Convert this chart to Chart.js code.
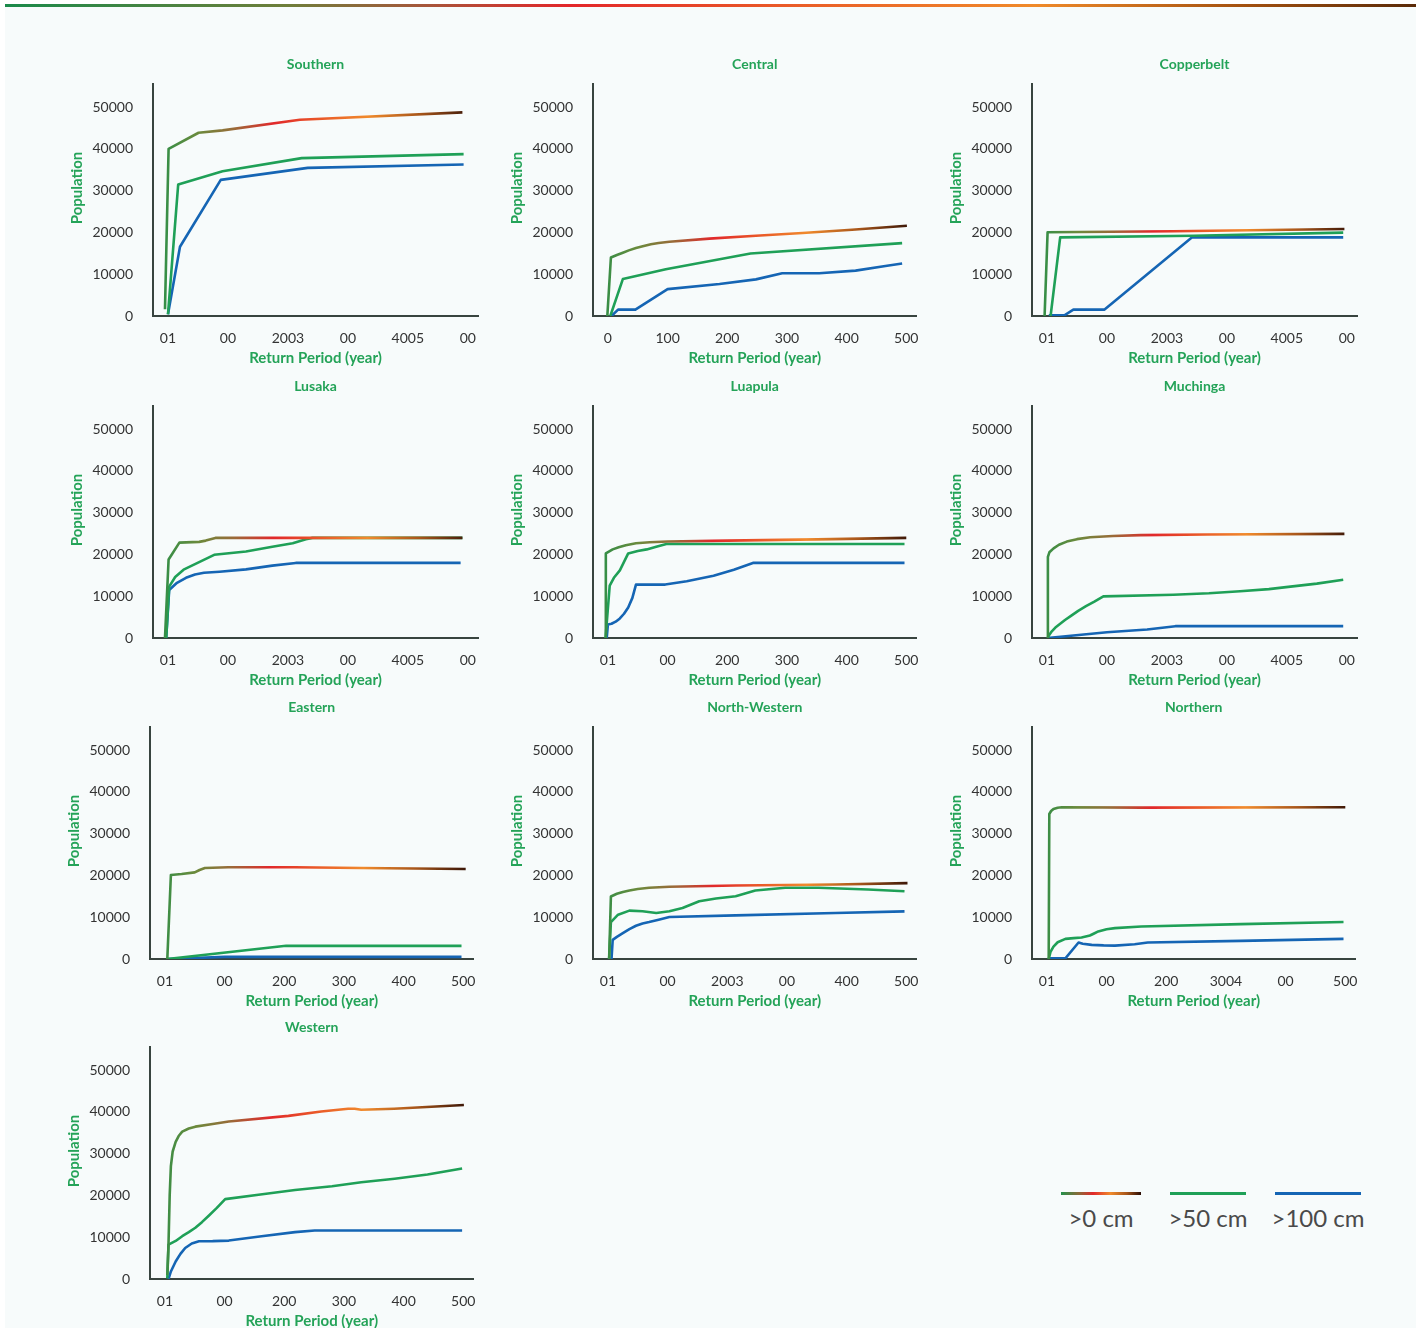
<!DOCTYPE html>
<html>
<head>
<meta charset="utf-8">
<title>Exposed population by return period</title>
<script src="https://cdn.jsdelivr.net/npm/chart.js@4.4.1/dist/chart.umd.min.js"></script>
<style>
  html, body { margin: 0; padding: 0; background: #ffffff; }
  body { width: 1426px; height: 1328px; position: relative; overflow: hidden; font-family: Lato, "Open Sans", sans-serif; }
  #sheet { position: absolute; left: 5px; top: 4px; width: 1411px; height: 1324px; background: #f7fbfb; }
  #topRule { position: absolute; left: 5px; top: 4px; width: 1411px; height: 3px;
    background: linear-gradient(90deg, #1a8a4a 0%, #6f7e3a 20%, #a8553a 30%, #e3262a 40%, #ea5a28 55%, #f08a2a 73%, #a2500f 88%, #5a2a08 100%); }
  .panel { position: absolute; width: 440px; height: 332px; }
  .panel canvas { display: block; }
  .swatch { position: absolute; height: 3px; }
  .caption { position: absolute; width: 140px; text-align: center; font-size: 24px; line-height: 28px; color: #4a4a4a; }
</style>
</head>
<body>
<div id="sheet"></div>
<div id="topRule"></div>
<div id="panels"></div>

<div class="swatch" style="left:1061px;top:1192px;width:80px;background:linear-gradient(90deg,#23904a 0%,#8a6a38 22%,#e1282b 40%,#f08a2c 62%,#a8561a 82%,#2a0c04 100%);"></div>
<div class="swatch" style="left:1170px;top:1192px;width:76px;background:#1fa057;"></div>
<div class="swatch" style="left:1275px;top:1192px;width:86px;background:#1565b4;"></div>
<div class="caption" id="cap0" style="left:1031px;top:1204px;"></div>
<div class="caption" id="cap1" style="left:1138px;top:1204px;"></div>
<div class="caption" id="cap2" style="left:1248px;top:1204px;"></div>

<script>
// ---- Regions and series ----
const regions = ['Southern', 'Central', 'Copperbelt', 'Lusaka', 'Luapula', 'Muchinga',
                 'Eastern', 'North-Western', 'Northern', 'Western'];
const seriesNames = ['>0 cm', '>50 cm', '>100 cm'];

// ---- Axis tick positions ----
const xTickValues = [0, 100, 200, 300, 400, 500];
const yTickValues = [0, 10000, 20000, 30000, 40000, 50000];

// ---- X tick labels (return period axis), as printed on each panel ----
const ticksGarbledA = ['01', '00', '2003', '00', '4005', '00'];
const ticksPlain = ['0', '100', '200', '300', '400', '500'];
const ticksGarbledB = ['01', '00', '200', '300', '400', '500'];
const ticksNorthWestern = ['01', '00', '2003', '00', '400', '500'];
const ticksNorthern = ['01', '00', '200', '3004', '00', '500'];

// ---- Population exposed, [return period (years), population] ----
const southern0 = [[-5, 1600], [1, 40000], [51, 43840], [91, 44400], [220, 46960], [491, 48720]];
const southern50 = [[0, 400], [17, 31440], [91, 34640], [223, 37760], [493, 38720]];
const southern100 = [[0, 400], [20, 16560], [88, 32560], [233, 35440], [493, 36240]];

const central0 = [[-1, 0], [5, 14000], [15, 14600], [25, 15150], [35, 15700], [47, 16250], [60, 16750], [72, 17150], [85, 17450], [103, 17770], [170, 18500], [248, 19200], [326, 19850], [409, 20650], [501, 21600]];
const central50 = [[4, 0], [25, 8840], [97, 11170], [239, 14950], [493, 17440]];
const central100 = [[6, 0], [17, 1530], [46, 1530], [100, 6430], [187, 7640], [248, 8760], [292, 10210], [354, 10210], [415, 10850], [465, 11980], [493, 12540]];

const copperbelt0 = [[-4, 0], [1, 20020], [211, 20260], [496, 20820]];
const copperbelt50 = [[6, 0], [22, 18810], [244, 19210], [494, 19940]];
const copperbelt100 = [[3, 160], [29, 160], [44, 1530], [96, 1530], [242, 18810], [494, 18810]];

const lusaka0 = [[-5, 0], [1, 18770], [19, 22820], [52, 23000], [63, 23300], [79, 23950], [491, 23950]];
const lusaka50 = [[-3, 0], [2, 12300], [12, 14600], [26, 16340], [77, 19900], [130, 20700], [174, 21840], [208, 22650], [230, 23620], [241, 23950], [491, 23950]];
const lusaka100 = [[-3, 0], [2, 11490], [15, 13200], [30, 14400], [45, 15200], [60, 15600], [86, 15860], [130, 16420], [174, 17310], [213, 17960], [488, 17960]];

const luapula0 = [[-4, 0], [-3.5, 20230], [8, 21200], [18, 21700], [30, 22200], [47, 22650], [70, 22900], [100, 23100], [200, 23300], [350, 23600], [500, 23950]];
const luapula50 = [[-4, 0], [3, 12540], [10, 14400], [20, 16180], [34, 20230], [50, 20800], [65, 21200], [81, 21840], [98, 22490], [497, 22490]];
const luapula100 = [[-2, 0], [0, 3240], [6, 3400], [13, 3900], [20, 4690], [27, 5800], [34, 7280], [41, 9600], [47, 12780], [96, 12780], [132, 13590], [177, 14890], [211, 16340], [243, 17960], [497, 17960]];

const muchinga0 = [[1, 0], [1.5, 19420], [4, 20500], [11, 21440], [20, 22300], [33, 23060], [50, 23650], [72, 24110], [110, 24400], [156, 24600], [267, 24760], [496, 24920]];
const muchinga50 = [[1, 0], [4, 800], [8, 1600], [14, 2500], [22, 3400], [30, 4300], [40, 5300], [52, 6500], [65, 7600], [79, 8700], [94, 9950], [211, 10360], [270, 10700], [322, 11170], [370, 11700], [406, 12300], [450, 13000], [494, 13920]];
const muchinga100 = [[1, 0], [100, 1380], [167, 2020], [214, 2830], [494, 2830]];

const eastern0 = [[4, 0], [10, 20080], [28, 20320], [50, 20730], [58, 21290], [67, 21770], [106, 21940], [217, 21940], [328, 21770], [504, 21530]];
const eastern50 = [[4, 0], [203, 3150], [497, 3150]];
const eastern100 = [[4, 0], [100, 500], [497, 500]];

const northWestern0 = [[2, 0], [5, 14940], [15, 15600], [25, 16050], [36, 16390], [50, 16750], [69, 17030], [103, 17270], [214, 17590], [381, 17830], [502, 18150]];
const northWestern50 = [[2, 0], [5, 8840], [17, 10600], [36, 11570], [58, 11410], [81, 11000], [103, 11410], [125, 12210], [153, 13820], [181, 14460], [214, 15020], [247, 16390], [297, 17030], [353, 17030], [436, 16630], [497, 16220]];
const northWestern100 = [[6, 0], [8, 4580], [15, 5300], [25, 6180], [36, 7150], [47, 7950], [58, 8500], [69, 8840], [85, 9400], [103, 10040], [214, 10440], [381, 11000], [497, 11400]];

const northern0 = [[3, 0], [4, 34700], [7, 35400], [11, 35900], [18, 36200], [25, 36300], [160, 36220], [500, 36300]];
const northern50 = [[3, 0], [6, 1700], [11, 2970], [18, 4000], [31, 4820], [45, 5000], [58, 5140], [72, 5620], [79, 6100], [86, 6590], [100, 7100], [114, 7390], [158, 7790], [325, 8350], [497, 8840]];
const northern100 = [[4, 160], [31, 160], [53, 3940], [60, 3650], [75, 3370], [95, 3250], [114, 3210], [147, 3530], [169, 3940], [325, 4340], [497, 4820]];

const western0 = [[4, 970], [6, 8230], [8, 20000], [10, 27000], [13, 30500], [18, 32820], [23, 34200], [29, 35240], [40, 36000], [51, 36450], [80, 37100], [107, 37660], [207, 39030], [262, 40080], [307, 40730], [318, 40730], [329, 40480], [384, 40730], [501, 41610]];
const western50 = [[4, 160], [6, 8230], [18, 9100], [29, 10240], [40, 11200], [51, 12260], [62, 13600], [73, 15080], [87, 17000], [101, 19110], [160, 20200], [218, 21290], [280, 22200], [329, 23150], [385, 24000], [440, 25000], [498, 26450]];
const western100 = [[6, 0], [10, 1800], [18, 4190], [26, 6000], [34, 7420], [45, 8500], [57, 9030], [80, 9050], [107, 9190], [162, 10240], [218, 11210], [251, 11610], [498, 11610]];

// ---- Panel wiring: series, tick labels and placement (plot-area left/top) ----
const panelSetup = [
  { series: [southern0, southern50, southern100], ticks: ticksGarbledA, left: 153, top: 84 },
  { series: [central0, central50, central100], ticks: ticksPlain, left: 593, top: 84 },
  { series: [copperbelt0, copperbelt50, copperbelt100], ticks: ticksGarbledA, left: 1032, top: 84 },
  { series: [lusaka0, lusaka50, lusaka100], ticks: ticksGarbledA, left: 153, top: 406 },
  { series: [luapula0, luapula50, luapula100], ticks: ticksGarbledB, left: 593, top: 406 },
  { series: [muchinga0, muchinga50, muchinga100], ticks: ticksGarbledA, left: 1032, top: 406 },
  { series: [eastern0, eastern50, eastern100], ticks: ticksGarbledB, left: 150, top: 727 },
  { series: [northWestern0, northWestern50, northWestern100], ticks: ticksNorthWestern, left: 593, top: 727 },
  { series: [northern0, northern50, northern100], ticks: ticksNorthern, left: 1032, top: 727 },
  { series: [western0, western50, western100], ticks: ticksGarbledB, left: 150, top: 1047 }
];

// ---- Styling ----
const GREEN_TEXT = '#24a358';
const LINE_GREEN = '#1fa057';
const LINE_BLUE = '#1565b4';
const AXIS_COLOR = '#38443f';
const TICK_COLOR = '#333333';
const FONT_FAMILY = 'Lato, "Open Sans", sans-serif';
const HEAT_STOPS = [
  [0, '#23904a'], [0.14, '#6b8a3c'], [0.25, '#9a6a38'], [0.37, '#e1282b'],
  [0.52, '#ea5a28'], [0.66, '#f08a2c'], [0.82, '#a8561a'], [1, '#2a0c04']
];

function heatStroke(context) {
  const chart = context.chart;
  const area = chart.chartArea;
  if (!area) return HEAT_STOPS[0][1];
  const g = chart.ctx.createLinearGradient(area.left, 0, area.right, 0);
  HEAT_STOPS.forEach(([o, c]) => g.addColorStop(o, c));
  return g;
}

// Rotated y-axis caption, drawn slightly above the plot's vertical centre
const sideCaption = {
  id: 'sideCaption',
  afterDraw(chart, args, opts) {
    const { ctx, chartArea } = chart;
    ctx.save();
    ctx.translate(opts.x, (chartArea.top + chartArea.bottom) / 2 + opts.shift);
    ctx.rotate(-Math.PI / 2);
    ctx.font = 'bold 15px ' + FONT_FAMILY;
    ctx.fillStyle = opts.color;
    ctx.textAlign = 'center';
    ctx.textBaseline = 'middle';
    ctx.fillText(opts.text, 0, 0);
    ctx.restore();
  }
};

document.getElementById('cap0').textContent = seriesNames[0];
document.getElementById('cap1').textContent = seriesNames[1];
document.getElementById('cap2').textContent = seriesNames[2];

const host = document.getElementById('panels');
const strokes = [heatStroke, LINE_GREEN, LINE_BLUE];

panelSetup.forEach((p, i) => {
  const box = document.createElement('div');
  box.className = 'panel';
  box.style.left = (p.left - 100) + 'px';
  box.style.top = (p.top - 40) + 'px';
  const canvas = document.createElement('canvas');
  canvas.width = 440;
  canvas.height = 332;
  box.appendChild(canvas);
  host.appendChild(box);

  const datasets = p.series.map((s, k) => ({
    label: seriesNames[k],
    data: s.map(([x, y]) => ({ x, y })),
    borderColor: strokes[k],
    borderWidth: 2.6,
    pointRadius: 0,
    fill: false,
    tension: 0,
    borderJoinStyle: 'round',
    borderCapStyle: 'butt'
  }));

  new Chart(canvas, {
    type: 'line',
    data: { datasets },
    plugins: [sideCaption],
    options: {
      responsive: false,
      animation: false,
      devicePixelRatio: 1,
      layout: { padding: { left: 0, right: 15, top: 0, bottom: 0 } },
      plugins: {
        legend: { display: false },
        tooltip: { enabled: false },
        title: {
          display: true,
          text: regions[i],
          fullSize: false,
          color: GREEN_TEXT,
          font: { family: FONT_FAMILY, size: 14, weight: 'bold', lineHeight: 1.2 },
          padding: { top: 11.6, bottom: 11.6 }
        },
        sideCaption: { text: 'Population', x: 24, shift: -12, color: GREEN_TEXT }
      },
      scales: {
        x: {
          type: 'linear',
          min: -25,
          max: 517,
          grid: { display: false, drawTicks: false },
          border: { display: true, color: AXIS_COLOR, width: 2 },
          afterBuildTicks: (scale) => { scale.ticks = xTickValues.map(v => ({ value: v })); },
          ticks: {
            autoSkip: false,
            maxRotation: 0,
            padding: 14,
            color: TICK_COLOR,
            font: { family: FONT_FAMILY, size: 14, lineHeight: 1.2 },
            callback: (value, index) => p.ticks[index]
          },
          title: {
            display: true,
            text: 'Return Period (year)',
            color: GREEN_TEXT,
            font: { family: FONT_FAMILY, size: 15, weight: 'bold', lineHeight: 1.2 },
            padding: { top: 0, bottom: 9 }
          },
          afterFit: (scale) => { scale.height = 60; }
        },
        y: {
          type: 'linear',
          min: 0,
          max: 55500,
          grid: { display: false, drawTicks: false },
          border: { display: true, color: AXIS_COLOR, width: 2 },
          afterBuildTicks: (scale) => { scale.ticks = yTickValues.map(v => ({ value: v })); },
          ticks: {
            padding: 20,
            color: TICK_COLOR,
            font: { family: FONT_FAMILY, size: 14, lineHeight: 1.2 },
            callback: (value) => String(value)
          },
          afterFit: (scale) => { scale.width = 100; }
        }
      }
    }
  });
});
</script>
</body>
</html>
